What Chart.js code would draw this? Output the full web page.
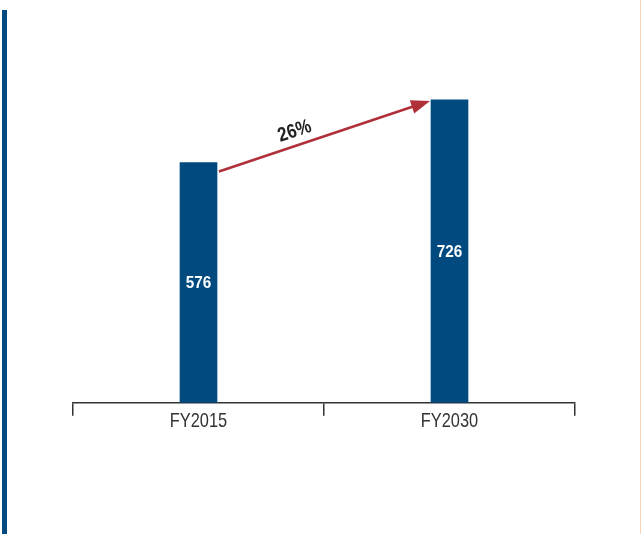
<!DOCTYPE html>
<html>
<head>
<meta charset="utf-8">
<script src="https://cdn.jsdelivr.net/npm/chart.js@4.4.1/dist/chart.umd.min.js"></script>
<style>
  html, body { margin: 0; padding: 0; background: #ffffff; }
  #wrap { position: relative; width: 641px; height: 534px; overflow: hidden; }
  #accent { position: absolute; left: 2px; top: 10px; width: 5px; bottom: 0; background: #004a80; }
  #edge { position: absolute; left: 640px; top: 0; width: 1px; bottom: 0; background: #f8d2b4; }
  canvas { position: absolute; left: 0; top: 0; }
</style>
</head>
<body>
<div id="wrap">
  <canvas id="chart" width="641" height="534"></canvas>
  <div id="accent"></div>
  <div id="edge"></div>
</div>
<script>
const categories = ['FY2015', 'FY2030'];
const values = [576, 726];

const FONT = "'Liberation Sans', Arial, sans-serif";
const BAR_BLUE = '#004a80';
const ARROW_RED = '#b0303a';

// Draw condensed text by squeezing the glyphs horizontally
function narrowText(ctx, text, x, y, font, color, squeeze, angle) {
  ctx.save();
  ctx.translate(x, y);
  if (angle) ctx.rotate(angle);
  ctx.scale(squeeze, 1);
  ctx.font = font;
  ctx.fillStyle = color;
  ctx.textAlign = 'center';
  ctx.textBaseline = 'middle';
  ctx.fillText(text, 0, 0);
  ctx.restore();
}

// Value labels centred inside each bar, category labels under the axis
const labelsPlugin = {
  id: 'labelsPlugin',
  afterDatasetsDraw(chart) {
    const ctx = chart.ctx;
    const meta = chart.getDatasetMeta(0);
    meta.data.forEach((bar, i) => {
      narrowText(ctx, String(values[i]), bar.x, (bar.y + bar.base) / 2 + 1,
        'bold 17px ' + FONT, '#ffffff', 0.9);
    });
    const xs = chart.scales.x;
    categories.forEach((c, i) => {
      narrowText(ctx, c, xs.getPixelForValue(i), xs.top + 18.5,
        '21px ' + FONT, '#333333', 0.78);
    });
  }
};

// Growth arrow from the first bar's top to the second bar's top
const growthArrow = {
  id: 'growthArrow',
  afterDatasetsDraw(chart) {
    const ctx = chart.ctx;
    const meta = chart.getDatasetMeta(0);
    const a = meta.data[0], b = meta.data[1];
    const x0 = a.x + a.width / 2 + 2, y0 = a.y + 9;
    const x1 = b.x - b.width / 2 - 1, y1 = b.y + 1;
    const ang = Math.atan2(y1 - y0, x1 - x0);
    const headLen = 19, headW = 7;
    ctx.save();
    ctx.strokeStyle = ARROW_RED;
    ctx.fillStyle = ARROW_RED;
    ctx.lineWidth = 2.5;
    ctx.beginPath();
    ctx.moveTo(x0, y0);
    ctx.lineTo(x1 - Math.cos(ang) * (headLen - 2), y1 - Math.sin(ang) * (headLen - 2));
    ctx.stroke();
    ctx.translate(x1, y1);
    ctx.rotate(ang);
    ctx.beginPath();
    ctx.moveTo(0, 0);
    ctx.lineTo(-headLen, -headW);
    ctx.lineTo(-headLen, headW);
    ctx.closePath();
    ctx.fill();
    ctx.restore();

    // growth percentage written along the arrow
    const pct = Math.round((values[1] / values[0] - 1) * 100) + '%';
    const t = 0.38;
    const mx = x0 + (x1 - x0) * t, my = y0 + (y1 - y0) * t;
    const off = 14;
    const lx = mx + Math.sin(ang) * off, ly = my - Math.cos(ang) * off;
    narrowText(ctx, pct, lx, ly, 'bold 20px ' + FONT, '#222222', 0.85, ang);
  }
};

new Chart(document.getElementById('chart'), {
  type: 'bar',
  data: {
    labels: categories,
    datasets: [{
      data: values,
      backgroundColor: BAR_BLUE,
      barThickness: 37
    }]
  },
  options: {
    responsive: false,
    animation: false,
    events: [],
    layout: { padding: { left: 73, right: 66, top: 69, bottom: 105 } },
    plugins: { legend: { display: false }, tooltip: { enabled: false } },
    scales: {
      y: { display: false, min: 0, max: 800 },
      x: {
        offset: true,
        border: { display: true, color: '#333333', width: 1.5 },
        grid: {
          offset: true,
          drawOnChartArea: false,
          drawTicks: true,
          tickLength: 13,
          color: '#333333',
          lineWidth: 1.5
        },
        ticks: {
          color: 'rgba(0,0,0,0)',
          padding: -6,
          font: { family: FONT, size: 21 }
        }
      }
    }
  },
  plugins: [labelsPlugin, growthArrow]
});
</script>
</body>
</html>
